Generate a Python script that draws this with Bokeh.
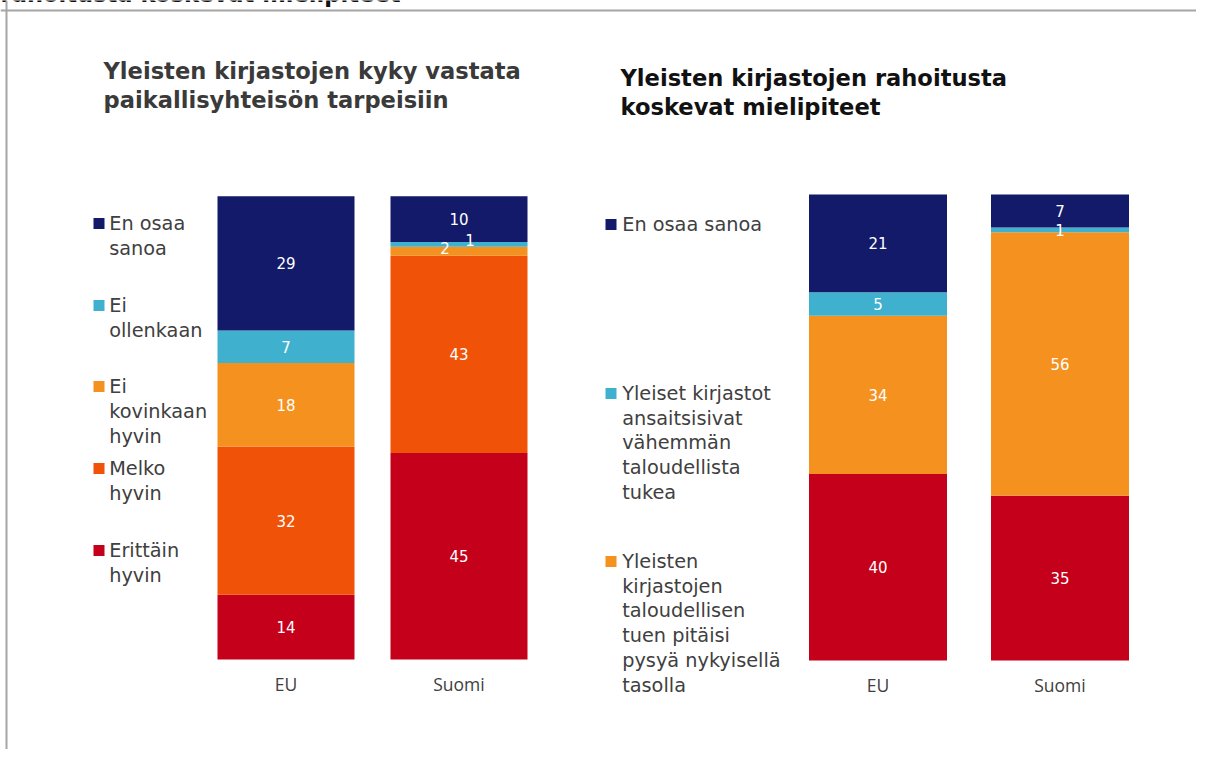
from bokeh.plotting import figure
from bokeh.models import Range1d, ColumnDataSource, Span
from bokeh.core.properties import value
from bokeh.embed import file_html
from bokeh.resources import INLINE

# ---------------- data ----------------
header_text = "rahoitusta koskevat mielipiteet"
left_title = "Yleisten kirjastojen kyky vastata\npaikallisyhteisön tarpeisiin"
left_categories = ["EU", "Suomi"]
left_names = ["Erittäin\nhyvin", "Melko\nhyvin", "Ei\nkovinkaan\nhyvin", "Ei\nollenkaan", "En osaa\nsanoa"]
left_erittain = [14, 45]
left_melko = [32, 43]
left_ei_kovinkaan = [18, 2]
left_ei_ollenkaan = [7, 1]
left_en_osaa = [29, 10]

right_title = "Yleisten kirjastojen rahoitusta\nkoskevat mielipiteet"
right_categories = ["EU", "Suomi"]
right_names = [None,
               "Yleisten\nkirjastojen\ntaloudellisen\ntuen pitäisi\npysyä nykyisellä\ntasolla",
               "Yleiset kirjastot\nansaitsisivat\nvähemmän\ntaloudellista\ntukea",
               "En osaa sanoa"]
right_red = [40, 35]
right_nykyinen = [34, 56]
right_vahemman = [5, 1]
right_en_osaa = [21, 7]

# ---------------- styles ----------------
NAVY, LBLUE, ORANGE, ORANGERED, RED = "#131A69", "#3FB1CE", "#F5911F", "#F05207", "#C4001A"
left_colors = [RED, ORANGERED, ORANGE, LBLUE, NAVY]
right_colors = [RED, ORANGE, LBLUE, NAVY]
TXT = "#404040"

W, H = 1196, 749
OFF = 0

p = figure(width=W, height=H, output_backend="svg", toolbar_location=None,
           x_axis_location=None, y_axis_location=None, title=None,
           x_range=Range1d(0, W), y_range=Range1d(H, 0), min_border=0)
p.outline_line_color = None
p.grid.visible = False
p.background_fill_color = "white"
p.border_fill_color = "white"


def add_ranges(name, base_s, top_s, c0_s, c1_s):
    base_c, top_c = base_s - OFF, top_s - OFF
    c0, c1 = c0_s - OFF, c1_s - OFF
    ppu_y = (base_c - top_c) / 100.0
    ppu_x = c1 - c0
    p.extra_y_ranges[name] = Range1d((base_c - H) / ppu_y, base_c / ppu_y)
    p.extra_x_ranges[name] = Range1d(-c0 / ppu_x, (W - c0) / ppu_x)
    return ppu_x, ppu_y


def draw_chart(name, cats, series, colors, geom, bar_px, nudges):
    ppu_x, ppu_y = add_ranges(name, *geom)
    n = len(cats)
    totals = [sum(s[i] for s in series) for i in range(n)]
    bottoms = [0.0] * n
    lx, ly, lt = [], [], []
    for si, (vals, col) in enumerate(zip(series, colors)):
        pct = [v / t * 100.0 for v, t in zip(vals, totals)]
        tops = [b + q for b, q in zip(bottoms, pct)]
        src = ColumnDataSource(dict(x=list(range(n)), bottom=bottoms, top=tops))
        p.vbar(x="x", bottom="bottom", top="top", width=bar_px / ppu_x, source=src,
               fill_color=col, line_color=None,
               x_range_name=name, y_range_name=name)
        for i in range(n):
            dx, dy = nudges.get((si, i), (0, 0))  # dx right, dy up (pixels)
            lx.append(i + dx / ppu_x)
            ly.append((bottoms[i] + tops[i]) / 2.0 + dy / ppu_y)
            lt.append(str(vals[i]))
        bottoms = tops
    p.text(x=lx, y=ly, text=lt, x_range_name=name, y_range_name=name,
           text_font=value("DejaVu Sans"), text_font_size="15px", text_color="white",
           text_align="center", text_baseline="middle")
    # category labels
    p.text(x=list(range(n)), y=[-24.0 / ppu_y] * n, text=cats,
           x_range_name=name, y_range_name=name,
           text_font=value("Open Sans"), text_font_size="17.5px", text_color=TXT,
           text_align="center", text_baseline="middle")


draw_chart("L", left_categories,
           [left_erittain, left_melko, left_ei_kovinkaan, left_ei_ollenkaan, left_en_osaa],
           left_colors, (659, 195.7, 285.5, 458.5), 137,
           {(2, 1): (-14, 3), (3, 1): (11, 4)})
draw_chart("R", right_categories,
           [right_red, right_nykyinen, right_vahemman, right_en_osaa],
           right_colors, (660, 194, 877.5, 1059.5), 138, {})


def draw_title(text, x_s, base_s, color, lh=29):
    lines = text.split("\n")
    p.text(x=[x_s - OFF] * len(lines), y=[base_s - OFF + lh * i for i in range(len(lines))],
           text=lines, text_font=value("DejaVu Sans"), text_font_style="bold",
           text_font_size="22.6px", text_color=color, text_align="left",
           text_baseline="alphabetic")


draw_title(left_title, 103, 70, "#3A3A3A")
draw_title(right_title, 620, 77, "#111111")
draw_title(header_text, 0, -7, "#111111")


def draw_legend(names, colors, sq_x_s, txt_x_s, centers_s, lh):
    sx, sy, sc = [], [], []
    tx, ty, tt = [], [], []
    for nm, col, cy in zip(names, colors, centers_s):
        if nm is None or cy is None:
            continue
        sx.append(sq_x_s - OFF)
        sy.append(cy - OFF)
        sc.append(col)
        for k, line in enumerate(nm.split("\n")):
            tx.append(txt_x_s - OFF)
            ty.append(cy - OFF + k * lh)
            tt.append(line)
    p.scatter(x=sx, y=sy, marker="square", size=11, fill_color=sc, line_color=None)
    p.text(x=tx, y=ty, text=tt, text_font=value("DejaVu Sans"), text_font_size="19.3px",
           text_color=TXT, text_align="left", text_baseline="middle")


draw_legend(left_names, left_colors, 98.5, 108.7, [550, 468, 386, 305, 223], 24.8)
draw_legend(right_names, right_colors, 610.5, 621.7, [None, 561, 393, 224], 24.7)

# frame lines
p.add_layout(Span(location=10, dimension="width", line_color="#A6A6A6", line_width=2))
p.add_layout(Span(location=6, dimension="height", line_color="#A6A6A6", line_width=2))

open("out.html", "w").write(file_html(p, INLINE))
